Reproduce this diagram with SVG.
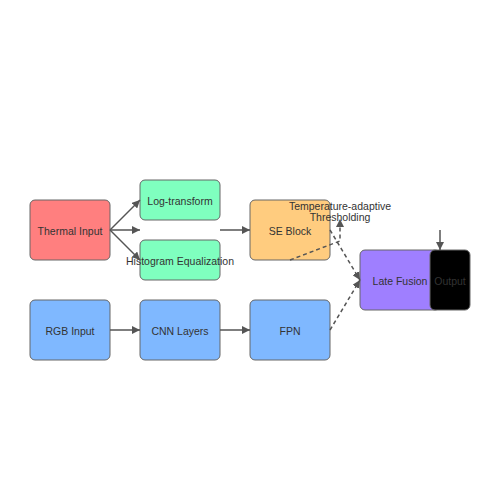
<svg xmlns="http://www.w3.org/2000/svg" width="500" height="500" viewBox="0 0 500 500">
<defs>
<marker id="ah" viewBox="0 0 10 10" refX="10" refY="5" markerWidth="8" markerHeight="8" orient="auto" markerUnits="userSpaceOnUse">
<path d="M0,0 L10,5 L0,10 z" fill="#555"/>
</marker>
<style>
.n{stroke:#666;stroke-width:1}
.t{font-family:"Liberation Sans",Arial,sans-serif;font-size:10.5px;fill:#333;text-anchor:middle;dominant-baseline:central}
.e{fill:none;stroke:#555;stroke-width:1.5;marker-end:url(#ah)}
.d{stroke-dasharray:4,3}
</style>
</defs>
<rect width="500" height="500" fill="#fff"/>
<g id="thermal"><rect class="n" x="30" y="200" width="80" height="60" rx="5" fill="#FF7F7F"/><text class="t" x="70" y="231">Thermal Input</text></g>
<g id="log"><rect class="n" x="140" y="180" width="80" height="40" rx="5" fill="#7FFFBF"/><text class="t" x="180" y="201">Log-transform</text></g>
<g id="hist"><rect class="n" x="140" y="240" width="80" height="40" rx="5" fill="#7FFFBF"/><text class="t" x="180" y="261">Histogram Equalization</text></g>
<g id="se"><rect class="n" x="250" y="200" width="80" height="60" rx="5" fill="#FFCC7F"/><text class="t" x="290" y="231">SE Block</text></g>
<g id="rgb"><rect class="n" x="30" y="300" width="80" height="60" rx="5" fill="#7FB8FF"/><text class="t" x="70" y="331">RGB Input</text></g>
<g id="cnn"><rect class="n" x="140" y="300" width="80" height="60" rx="5" fill="#7FB8FF"/><text class="t" x="180" y="331">CNN Layers</text></g>
<g id="fpn"><rect class="n" x="250" y="300" width="80" height="60" rx="5" fill="#7FB8FF"/><text class="t" x="290" y="331">FPN</text></g>
<g id="fusion"><rect class="n" x="360" y="250" width="80" height="60" rx="5" fill="#9F7FFF"/><text class="t" x="400" y="281">Late Fusion</text></g>
<g id="output"><rect class="n" x="430" y="250" width="40" height="60" rx="5" fill="#000"/><text class="t" x="450" y="281">Output</text></g>
<g id="thresh"><text class="t" x="340" y="205.5">Temperature-adaptive</text><text class="t" x="340" y="216.5">Thresholding</text></g>
<g id="connectors">
<path class="e" d="M110,230 L140,200"/>
<path class="e" d="M110,230 L140,230"/>
<path class="e" d="M110,230 L140,260"/>
<path class="e" d="M220,230 L250,230"/>
<path class="e" d="M110,330 L140,330"/>
<path class="e" d="M220,330 L250,330"/>
<path class="e d" d="M330,230 L360,280"/>
<path class="e d" d="M330,330 L360,280"/>
<path class="e d" d="M290,260 L340,241 L340,219"/>
<path class="e" d="M440,230 L440,250"/>
</g>
</svg>
